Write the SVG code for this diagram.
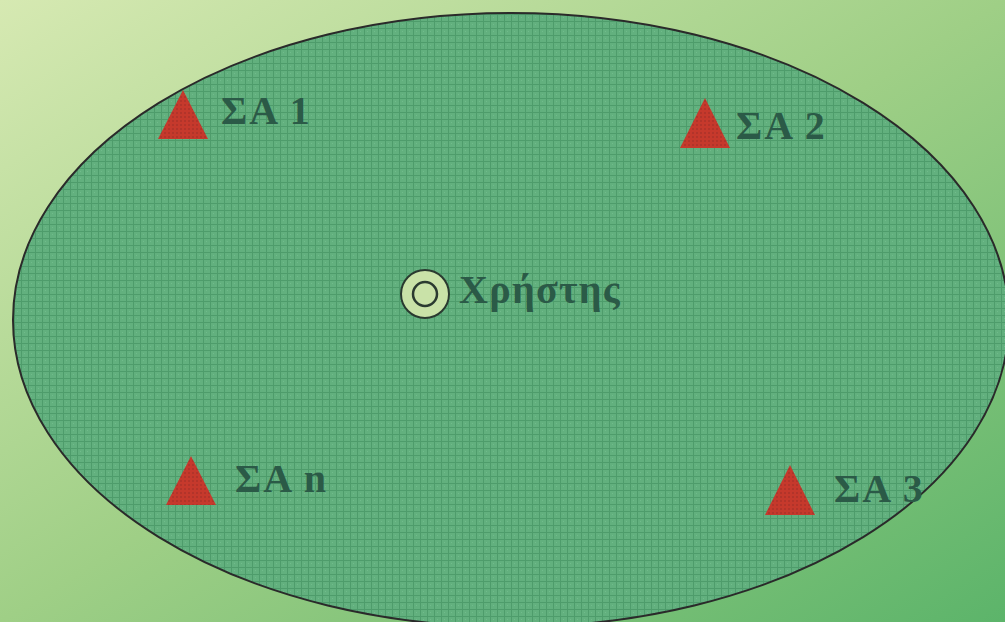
<svg xmlns="http://www.w3.org/2000/svg" width="1005" height="622" viewBox="0 0 1005 622">
<defs>
<linearGradient id="bg" x1="0" y1="0" x2="1" y2="1">
<stop offset="0" stop-color="#d6e9b2"/>
<stop offset="0.5" stop-color="#9fcf86"/>
<stop offset="1" stop-color="#5cb46a"/>
</linearGradient>
<pattern id="grid" width="7" height="7" patternUnits="userSpaceOnUse">
<rect width="7" height="7" fill="#62b07e"/>
<path d="M0 0.5H7M0.5 0V7" stroke="#4e9c6b" stroke-width="1"/>
<rect x="3" y="3" width="1" height="1" fill="#70bb8b"/>
</pattern>
<pattern id="redp" width="4" height="4" patternUnits="userSpaceOnUse">
<rect width="4" height="4" fill="#c6392c"/>
<rect width="2" height="2" fill="#b2342a"/>
</pattern>
<style>
.lbl{font-family:"Liberation Serif","Times New Roman",serif;font-weight:bold;font-size:40px;fill:#2b5a47;letter-spacing:2px}
.usr{letter-spacing:1.3px}
.tri{fill:url(#redp)}
</style>
</defs>
<rect width="1005" height="622" fill="url(#bg)"/>
<ellipse cx="511" cy="320" rx="498" ry="307" fill="url(#grid)" stroke="#2a2a2a" stroke-width="2"/>
<g id="user">
<circle cx="425" cy="294" r="24" fill="#c9e2a8" stroke="#2a3a30" stroke-width="2"/>
<circle cx="425" cy="294" r="12" fill="#c9e2a8" stroke="#2a3a30" stroke-width="2.5"/>
<text class="lbl usr" x="459" y="303">Χρήστης</text>
</g>
<g id="sa1">
<polygon class="tri" points="183,90 208,139 158,139"/>
<text class="lbl" x="221" y="124">ΣΑ 1</text>
</g>
<g id="sa2">
<polygon class="tri" points="705,98 730,148 680,148"/>
<text class="lbl" x="736" y="139">ΣΑ 2</text>
</g>
<g id="san">
<polygon class="tri" points="191,456 216,505 166,505"/>
<text class="lbl" x="235" y="492">ΣΑ n</text>
</g>
<g id="sa3">
<polygon class="tri" points="790,465 815,515 765,515"/>
<text class="lbl" x="834" y="502">ΣΑ 3</text>
</g>
<g id="connectors"/>
</svg>
